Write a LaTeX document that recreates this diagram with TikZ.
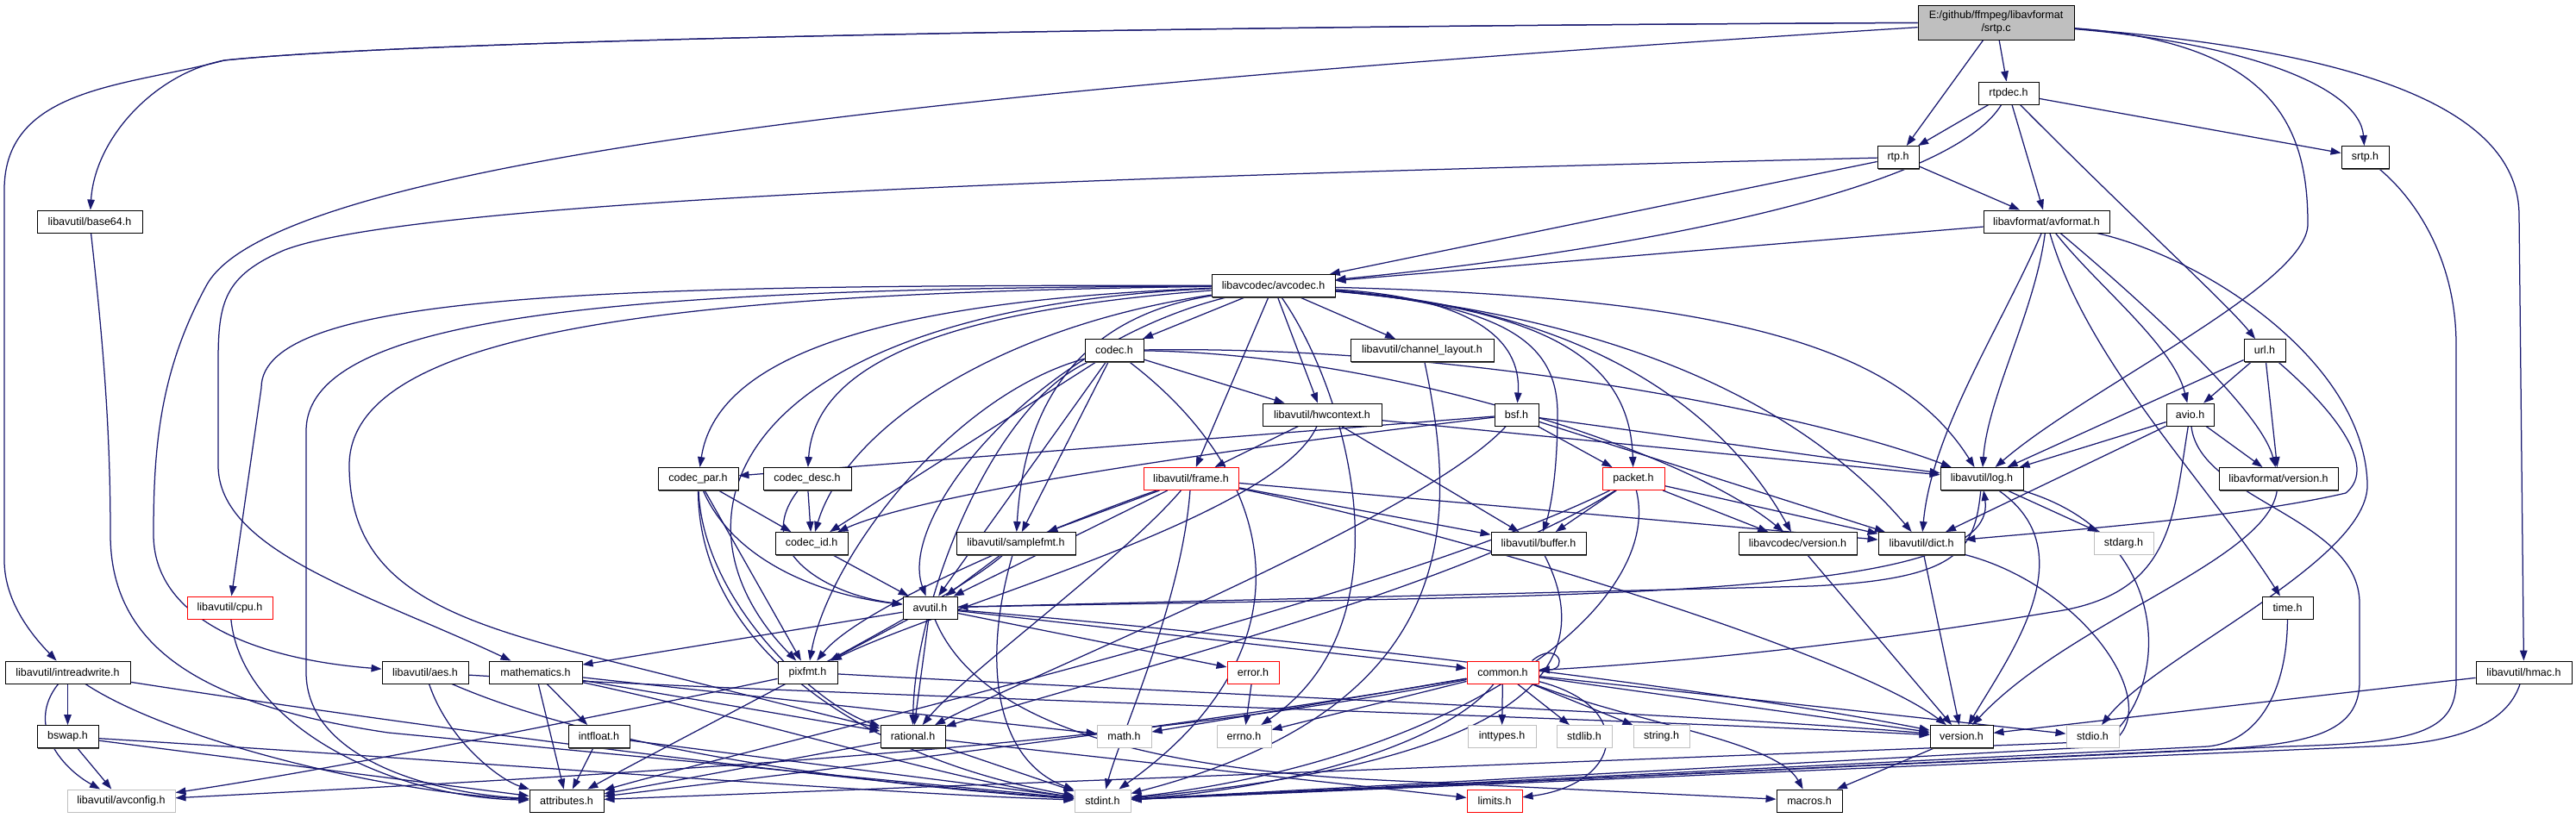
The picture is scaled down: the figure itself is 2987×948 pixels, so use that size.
\documentclass[tikz,border=0pt]{standalone}
\usepackage{fontspec}
\setmainfont{Liberation Sans}
\usetikzlibrary{arrows.meta,backgrounds,shadows}
\definecolor{edgec}{HTML}{191970}
\definecolor{grayb}{HTML}{BFBFBF}
\tikzset{
  box/.style={draw=black, line width=0.9pt, fill=white, minimum height=26pt, inner sep=0pt, font=\fontsize{12.5}{14.5}\selectfont,
    general shadow={fill=black!70, shadow xshift=1.4pt, shadow yshift=-1.4pt}},
  gbox/.style={draw=grayb, line width=1pt, fill=white, minimum height=26pt, inner sep=0pt, font=\fontsize{12.5}{14.5}\selectfont},
  rbox/.style={draw=red, line width=1pt, fill=white, minimum height=26pt, inner sep=0pt, font=\fontsize{12.5}{14.5}\selectfont},
  dep/.style={draw=edgec, line width=1.25pt, -{Triangle[length=12pt,width=8.5pt]}},
}
\begin{document}
\begin{tikzpicture}[x=1pt,y=-1pt]
\useasboundingbox (0,0) rectangle (2987,948);
% nodes
\node[box, fill=grayb, minimum width=181pt, minimum height=40pt, align=center] (srtp) at (2314.5,26) {E:/github/ffmpeg/libavformat\\/srtp.c};
\node[box, minimum width=70pt] (rtpdec) at (2329,108) {rtpdec.h};
\node[box, minimum width=48pt] (rtp) at (2201,182.5) {rtp.h};
\node[box, minimum width=55pt] (srtph) at (2742.5,182.5) {srtp.h};
\node[box, minimum width=146pt] (avformat) at (2373,257) {libavformat/avformat.h};
\node[box, minimum width=122pt] (base64) at (104,257) {libavutil/base64.h};
\node[box, minimum width=143pt] (avcodec) at (1476.5,331.5) {libavcodec/avcodec.h};
\node[box, minimum width=68pt] (codec) at (1292,406.5) {codec.h};
\node[box, minimum width=166pt] (chlayout) at (1649,406.5) {libavutil/channel\_layout.h};
\node[box, minimum width=48pt] (url) at (2626,406.5) {url.h};
\node[box, minimum width=138pt] (hwcontext) at (1533,481) {libavutil/hwcontext.h};
\node[box, minimum width=51pt] (bsf) at (1758.5,481) {bsf.h};
\node[box, minimum width=55pt] (avio) at (2539.5,481) {avio.h};
\node[box, minimum width=93pt] (codecpar) at (809.5,555.5) {codec\_par.h};
\node[box, minimum width=102pt] (codecdesc) at (936,555.5) {codec\_desc.h};
\node[rbox, minimum width=110pt] (frame) at (1381,555.5) {libavutil/frame.h};
\node[rbox, minimum width=72pt] (packet) at (1894,555.5) {packet.h};
\node[box, minimum width=96pt] (log) at (2298,555.5) {libavutil/log.h};
\node[box, minimum width=138pt] (lavfversion) at (2642,555.5) {libavformat/version.h};
\node[box, minimum width=84pt] (codecid) at (941,630.5) {codec\_id.h};
\node[box, minimum width=138pt] (samplefmt) at (1178,630.5) {libavutil/samplefmt.h};
\node[box, minimum width=110pt] (buffer) at (1784,630.5) {libavutil/buffer.h};
\node[box, minimum width=137pt] (lavcversion) at (2084.5,630.5) {libavcodec/version.h};
\node[box, minimum width=100pt] (dict) at (2228,630.5) {libavutil/dict.h};
\node[gbox, minimum width=69pt] (stdarg) at (2462.5,630.5) {stdarg.h};
\node[rbox, minimum width=99pt] (cpu) at (266.5,705) {libavutil/cpu.h};
\node[box, minimum width=63pt] (avutil) at (1078.5,705) {avutil.h};
\node[box, minimum width=59pt] (time) at (2652.5,705) {time.h};
\node[box, minimum width=145pt] (intreadwrite) at (78.5,780) {libavutil/intreadwrite.h};
\node[box, minimum width=100pt] (aes) at (493,780) {libavutil/aes.h};
\node[box, minimum width=108pt] (mathematics) at (621,780) {mathematics.h};
\node[box, minimum width=69pt] (pixfmt) at (936.5,780) {pixfmt.h};
\node[rbox, minimum width=60pt] (error) at (1453,780) {error.h};
\node[rbox, minimum width=83pt] (common) at (1742.5,780) {common.h};
\node[box, minimum width=111pt] (hmac) at (2926.5,780) {libavutil/hmac.h};
\node[box, minimum width=71pt] (bswap) at (78.5,854.5) {bswap.h};
\node[box, minimum width=71pt] (intfloat) at (694.5,854.5) {intfloat.h};
\node[box, minimum width=75pt] (rational) at (1058.5,854.5) {rational.h};
\node[gbox, minimum width=63pt] (math) at (1303.5,854.5) {math.h};
\node[gbox, minimum width=63pt] (errno) at (1442.5,854.5) {errno.h};
\node[gbox, minimum width=79pt] (inttypes) at (1741.5,854.5) {inttypes.h};
\node[gbox, minimum width=64pt] (stdlib) at (1837,854.5) {stdlib.h};
\node[gbox, minimum width=65pt] (string) at (1926.5,854.5) {string.h};
\node[box, minimum width=73pt] (version) at (2274.5,854.5) {version.h};
\node[gbox, minimum width=61pt] (stdio) at (2426.5,854.5) {stdio.h};
\node[gbox, minimum width=125pt] (avconfig) at (140.5,929) {libavutil/avconfig.h};
\node[box, minimum width=86pt] (attributes) at (657,929) {attributes.h};
\node[gbox, minimum width=65pt] (stdint) at (1278.5,929) {stdint.h};
\node[rbox, minimum width=64pt] (limits) at (1733,929) {limits.h};
\node[box, minimum width=76pt] (macros) at (2098,929) {macros.h};

\begin{scope}[on background layer]
\fill[white] (0,0) rectangle (2987,948);
% srtp.c
\draw[dep] (srtp) -- (rtpdec);
\draw[dep] (srtp) -- (rtp);
\draw[dep] (srtp) .. controls (2600,50) and (2736,100) .. (srtph);
\draw[dep] (srtp) .. controls (2640,50) and (2676,150) .. (2676,260) .. controls (2676,330) and (2420,450) .. (log);
\draw[dep] (srtp) .. controls (2750,60) and (2921,130) .. (2921,250) -- (hmac);
\draw[dep] (srtp) .. controls (1400,30) and (500,45) .. (260,70) .. controls (180,85) and (110,160) .. (base64);
\draw[dep] (srtp) .. controls (1400,30) and (500,45) .. (260,70) .. controls (150,100) and (5,100) .. (5,220) -- (5,650) .. controls (5,700) and (40,740) .. (intreadwrite);
\draw[dep] (srtp) .. controls (1300,90) and (330,170) .. (240,330) .. controls (185,430) and (178,520) .. (178,620) .. controls (178,720) and (300,765) .. (aes);
% rtpdec
\draw[dep] (rtpdec) -- (rtp);
\draw[dep] (rtpdec) -- (srtph);
\draw[dep] (rtpdec) -- (avformat);
\draw[dep] (rtpdec) .. controls (2480,260) and (2580,350) .. (url);
\draw[dep] (rtpdec) .. controls (2260,220) and (1900,290) .. (avcodec);
% rtp
\draw[dep] (rtp) -- (avformat);
\draw[dep] (rtp) -- (avcodec);
\draw[dep] (rtp) .. controls (1500,200) and (500,225) .. (330,290) .. controls (260,320) and (253,350) .. (253,420) -- (253,540) .. controls (253,640) and (430,690) .. (mathematics);
% avformat
\draw[dep] (avformat) -- (avcodec);
\draw[dep] (avformat) .. controls (2320,380) and (2240,500) .. (dict);
\draw[dep] (avformat) .. controls (2360,360) and (2305,460) .. (log);
\draw[dep] (avformat) .. controls (2420,420) and (2560,560) .. (time);
\draw[dep] (avformat) .. controls (2430,330) and (2520,400) .. (avio);
\draw[dep] (avformat) .. controls (2460,330) and (2620,470) .. (lavfversion);
\draw[dep] (avformat) .. controls (2560,300) and (2740,420) .. (2745,560) .. controls (2750,650) and (2500,760) .. (stdio);
% url
\draw[dep] (url) -- (log);
\draw[dep] (url) -- (avio);
\draw[dep] (url) -- (lavfversion);
\draw[dep] (url) .. controls (2700,470) and (2760,540) .. (2720,572) .. controls (2600,600) and (2400,615) .. (dict);
% avio
\draw[dep] (avio) -- (log);
\draw[dep] (avio) -- (dict);
\draw[dep] (avio) -- (lavfversion);
\draw[dep] (avio) .. controls (2520,600) and (2520,690) .. (2380,710) .. controls (2200,740) and (2000,765) .. (common);
\draw[dep] (avio) .. controls (2550,580) and (2736,600) .. (2736,700) -- (2736,790) .. controls (2736,850) and (2680,865) .. (2550,870) -- (stdint);
% srtp.h, hmac, time
\draw[dep] (srtph) .. controls (2800,230) and (2848,300) .. (2848,400) -- (2848,790) .. controls (2848,850) and (2800,862) .. (2650,866) -- (stdint);
\draw[dep] (hmac) -- (version);
\draw[dep] (hmac) .. controls (2910,830) and (2870,862) .. (2750,866) -- (stdint);
\draw[dep] (time) .. controls (2652,800) and (2620,860) .. (2560,866) -- (stdint);
\draw[dep] (lavfversion) .. controls (2630,650) and (2400,720) .. (version);
% log
\draw[dep] (log) -- (stdarg);
\draw[dep] (log) .. controls (2290,640) and (2270,672) .. (2100,680) -- (avutil);
\draw[dep] (avutil) .. controls (1800,690) and (2320,700) .. (log);
\draw[dep] (log) .. controls (2420,640) and (2330,760) .. (version);
\draw[dep] (log) .. controls (2520,620) and (2520,800) .. (2440,860) -- (attributes);
% dict, versions
\draw[dep] (dict) -- (version);
\draw[dep] (dict) .. controls (2420,680) and (2520,830) .. (2440,866) -- (stdint);
\draw[dep] (lavcversion) -- (version);
\draw[dep] (version) -- (macros);
% common
\draw[dep] ([xshift=-8pt]common.north east) .. controls +(30,-25) and +(35,0) .. ([yshift=3pt]common.east);
\draw[dep] (common) -- (errno);
\draw[dep] (common) -- (math);
\draw[dep] (common) -- (inttypes);
\draw[dep] (common) -- (stdlib);
\draw[dep] (common) -- (string);
\draw[dep] (common) .. controls (1680,860) and (1500,915) .. (stdint);
\draw[dep] (common) .. controls (1900,820) and (1880,910) .. (limits);
\draw[dep] (common) .. controls (1400,840) and (900,900) .. (attributes);
\draw[dep] (common) .. controls (1900,840) and (2060,860) .. (macros);
\draw[dep] (common) -- (version);
\draw[dep] (common) -- (stdio);
\draw[dep] (common) .. controls (1300,870) and (600,905) .. (avconfig);
% avutil
\draw[dep] (avutil) -- (rational);
\draw[dep] (avutil) -- (pixfmt);
\draw[dep] (avutil) -- (mathematics);
\draw[dep] (avutil) -- (error);
\draw[dep] (avutil) -- (common);
\draw[dep] (avutil) .. controls (1500,740) and (2000,800) .. (version);
\draw[dep] (avutil) .. controls (1130,830) and (1300,890) .. (1600,905) -- (macros);
\draw[dep] (error) -- (errno);
% rational, mathematics, intfloat
\draw[dep] (rational) -- (stdint);
\draw[dep] (rational) -- (limits);
\draw[dep] (rational) -- (attributes);
\draw[dep] (mathematics) -- (math);
\draw[dep] (mathematics) -- (rational);
\draw[dep] (mathematics) -- (intfloat);
\draw[dep] (mathematics) -- (attributes);
\draw[dep] (mathematics) .. controls (900,840) and (1100,905) .. (stdint);
\draw[dep] (intfloat) -- (attributes);
\draw[dep] (intfloat) -- (stdint);
% pixfmt
\draw[dep] (pixfmt) .. controls (700,830) and (400,890) .. (avconfig);
\draw[dep] (pixfmt) .. controls (1300,800) and (2000,830) .. (version);
% aes
\draw[dep] (aes) .. controls (520,860) and (580,905) .. (attributes);
\draw[dep] (aes) .. controls (700,870) and (1000,910) .. (stdint);
\draw[dep] (aes) .. controls (900,805) and (1800,830) .. (version);
% intreadwrite, bswap, base64, cpu
\draw[dep] (intreadwrite) -- (bswap);
\draw[dep] (intreadwrite) .. controls (30,840) and (70,890) .. (avconfig);
\draw[dep] (intreadwrite) .. controls (200,860) and (450,920) .. (attributes);
\draw[dep] (intreadwrite) .. controls (400,830) and (900,900) .. (stdint);
\draw[dep] (bswap) -- (avconfig);
\draw[dep] (bswap) -- (attributes);
\draw[dep] (bswap) .. controls (500,880) and (1000,920) .. (stdint);
\draw[dep] (base64) .. controls (120,400) and (128,500) .. (128,620) .. controls (128,760) and (250,820) .. (450,850) -- (stdint);
\draw[dep] (cpu) .. controls (280,840) and (450,925) .. (attributes);
% samplefmt
\draw[dep] (samplefmt) -- (avutil);
\draw[dep] (samplefmt) .. controls (1100,700) and (800,850) .. (attributes);
\draw[dep] (samplefmt) .. controls (1140,760) and (1150,880) .. (stdint);
% frame
\draw[dep] (frame) -- (samplefmt);
\draw[dep] (frame) -- (avutil);
\draw[dep] (frame) -- (buffer);
\draw[dep] (frame) -- (dict);
\draw[dep] (frame) .. controls (1300,650) and (1120,780) .. (rational);
\draw[dep] (frame) .. controls (1250,600) and (1000,700) .. (pixfmt);
\draw[dep] (frame) .. controls (1370,700) and (1300,850) .. (stdint);
\draw[dep] (frame) .. controls (1700,620) and (2150,760) .. (version);
% packet
\draw[dep] (packet) -- (buffer);
\draw[dep] (packet) -- (dict);
\draw[dep] (packet) -- (lavcversion);
\draw[dep] (packet) .. controls (1700,680) and (1300,780) .. (rational);
\draw[dep] (packet) .. controls (1600,700) and (900,860) .. (attributes);
\draw[dep] (packet) .. controls (1930,700) and (1700,880) .. (stdint);
\draw[dep] (buffer) .. controls (1850,760) and (1800,880) .. (stdint);
% hwcontext
\draw[dep] (hwcontext) -- (buffer);
\draw[dep] (hwcontext) -- (frame);
\draw[dep] (hwcontext) -- (log);
\draw[dep] (hwcontext) .. controls (1480,600) and (1100,700) .. (pixfmt);
% bsf
\draw[dep] (bsf) -- (dict);
\draw[dep] (bsf) -- (log);
\draw[dep] (bsf) -- (packet);
\draw[dep] (bsf) .. controls (1650,600) and (1200,780) .. (rational);
\draw[dep] (bsf) .. controls (1600,500) and (1100,560) .. (codecid);
\draw[dep] (bsf) -- (codecpar);
% codec
\draw[dep] (codec) -- (hwcontext);
\draw[dep] (codec) .. controls (1700,400) and (2100,480) .. (log);
\draw[dep] (codec) .. controls (1600,410) and (1950,520) .. (lavcversion);
\draw[dep] (codec) -- (samplefmt);
\draw[dep] (codec) -- (avutil);
\draw[dep] (codec) -- (codecid);
\draw[dep] (codec) .. controls (1100,460) and (960,650) .. (pixfmt);
\draw[dep] (codec) .. controls (1150,470) and (1060,700) .. (rational);
\draw[dep] (codec) .. controls (1480,550) and (1530,750) .. (stdint);
% codec_par, codec_desc, codec_id, channel_layout
\draw[dep] (codecpar) -- (codecid);
\draw[dep] (codecpar) -- (pixfmt);
\draw[dep] (codecpar) .. controls (850,650) and (950,690) .. (avutil);
\draw[dep] (codecpar) .. controls (815,700) and (950,820) .. (rational);
\draw[dep] (codecpar) .. controls (810,750) and (1000,880) .. (stdint);
\draw[dep] (codecdesc) -- (codecid);
\draw[dep] (codecdesc) .. controls (870,640) and (960,690) .. (avutil);
\draw[dep] (codecid) -- (avutil);
\draw[dep] (chlayout) .. controls (1690,600) and (1700,820) .. (stdint);
% avcodec
\draw[dep] (avcodec) -- (codec);
\draw[dep] (avcodec) -- (chlayout);
\draw[dep] (avcodec) -- (hwcontext);
\draw[dep] (avcodec) -- (frame);
\draw[dep] (avcodec) .. controls (1700,345) and (1765,390) .. (bsf);
\draw[dep] (avcodec) .. controls (1300,360) and (1190,420) .. (samplefmt);
\draw[dep] (avcodec) .. controls (1800,360) and (1890,420) .. (packet);
\draw[dep] (avcodec) .. controls (1750,355) and (1806,400) .. (1806,480) .. controls (1806,560) and (1795,600) .. (buffer);
\draw[dep] (avcodec) .. controls (2000,345) and (2200,400) .. (log);
\draw[dep] (avcodec) .. controls (1900,370) and (2100,480) .. (dict);
\draw[dep] (avcodec) .. controls (1850,360) and (2000,480) .. (lavcversion);
\draw[dep] (avcodec) .. controls (1000,350) and (830,420) .. (codecpar);
\draw[dep] (avcodec) .. controls (1100,360) and (945,420) .. (codecdesc);
\draw[dep] (avcodec) .. controls (1150,380) and (980,500) .. (codecid);
\draw[dep] (avcodec) .. controls (850,360) and (760,600) .. (pixfmt);
\draw[dep] (avcodec) .. controls (1200,400) and (1040,600) .. (avutil);
\draw[dep] (avcodec) .. controls (800,340) and (405,380) .. (405,540) .. controls (405,680) and (520,720) .. (700,765) -- (rational);
\draw[dep] (avcodec) .. controls (700,330) and (303,340) .. (303,450) -- (cpu);
\draw[dep] (avcodec) .. controls (750,335) and (355,360) .. (355,500) -- (355,780) .. controls (355,880) and (500,920) .. (attributes);
\draw[dep] (avcodec) .. controls (1560,450) and (1640,720) .. (errno);
\end{scope}
\end{tikzpicture}
\end{document}
